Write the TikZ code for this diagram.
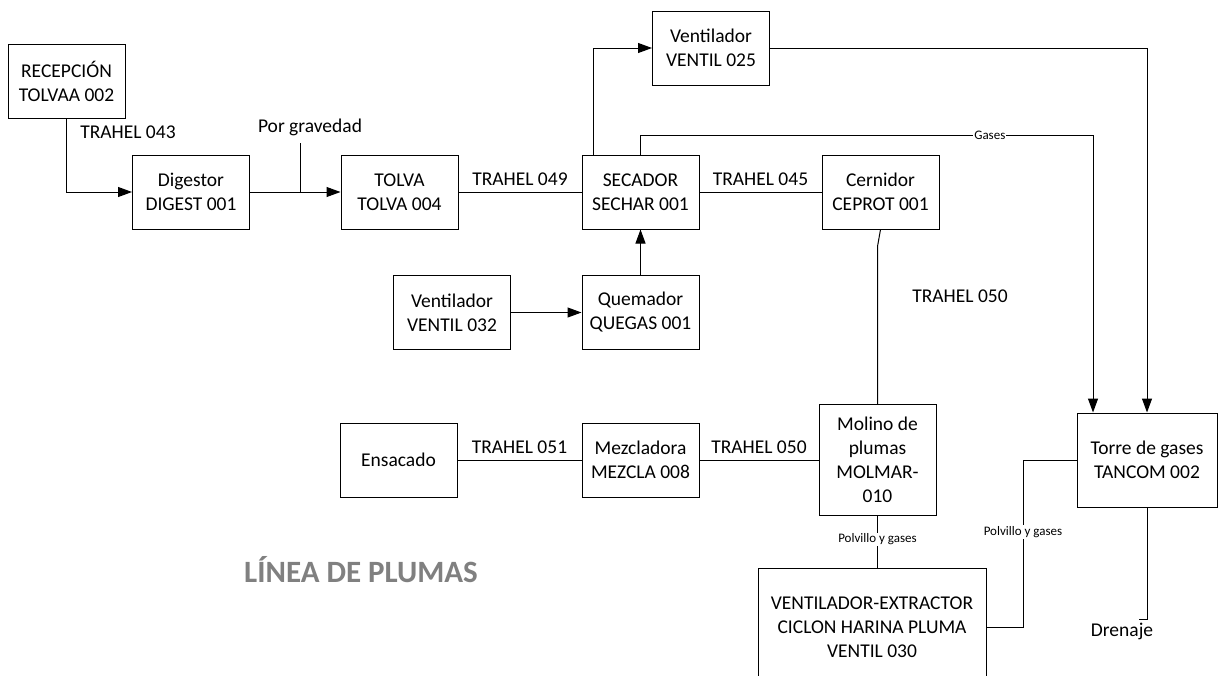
\documentclass[tikz,border=0pt]{standalone}
\usepackage{fontspec}
\setmainfont{Carlito}
\usetikzlibrary{positioning,arrows.meta,calc}

\begin{document}
\begin{tikzpicture}[
x=1pt, y=-1pt,
box/.style={draw, line width=1pt, align=center, inner sep=2pt, minimum width=117pt, minimum height=74pt, font=\fontsize{19.5}{24}\selectfont},
arr/.style={-{Triangle[length=14pt,width=10pt]}, line width=1pt},
ln/.style={line width=1pt},
lbl/.style={font=\fontsize{19.5}{24}\selectfont, inner sep=1pt},
tag/.style={font=\fontsize{13}{15}\selectfont, fill=white, inner sep=1pt},
node distance=50pt
]
\useasboundingbox (0,0) rectangle (1220,675);

% upper line
\node[box] (rec) at (66.5,81) {RECEPCIÓN\\TOLVAA 002};
\node[box] (dig) at (191,192) {Digestor\\DIGEST 001};
\node[box, right=90.5pt of dig] (tol) {TOLVA\\TOLVA 004};
\node[box, right=123pt of tol] (sec) {SECADOR\\SECHAR 001};
\node[box, right=122pt of sec] (cer) {Cernidor\\CEPROT 001};
\node[box] (v025) at (711,48) {Ventilador\\VENTIL 025};

\node[box, below=45.5pt of sec] (que) {Quemador\\QUEGAS 001};
\node[box, left=70.5pt of que] (v032) {Ventilador\\VENTIL 032};

% lower line
\node[box, below=72.5pt of que] (mez) {Mezcladora\\MEZCLA 008};
\node[box, left=124pt of mez] (ens) {Ensacado};
\node[box, right=119pt of mez, minimum height=111pt] (mol) {Molino de\\plumas\\MOLMAR-\\010};
\node[box, below=52pt of mol, xshift=-5.5pt, minimum width=228pt, minimum height=118pt] (vext) {VENTILADOR-EXTRACTOR\\CICLON HARINA PLUMA\\VENTIL 030};
\node[box, minimum width=140pt, minimum height=94pt] (tor) at (1147,460) {Torre de gases\\TANCOM 002};

\node[lbl] (t043) at (128,132) {TRAHEL 043};
\node[lbl] (grav) at (310,127) {Por gravedad};
\node[lbl] (t050a) at (960,296) {TRAHEL 050};
\node[lbl] (dren) at (1122,631) {Drenaje};
\node[font=\fontsize{31}{36}\selectfont\bfseries, text=black!50] (linea) at (361,570) {LÍNEA DE PLUMAS};

\coordinate (gravq) at (300,143);
\coordinate (gasq) at (1093,135);
\coordinate (pvq) at (1023,0);
\coordinate (drenq) at (1139,619);

\draw[arr] (rec.south) |- (dig.west);
\draw[arr] (dig) -- (tol);
\draw[ln] (gravq) -- (gravq |- dig.east);
\draw[ln] (tol) -- node[lbl, above=5pt] {TRAHEL 049} (sec);
\draw[ln] (sec) -- node[lbl, above=5pt] {TRAHEL 045} (cer);
\draw[arr] ([xshift=-47.5pt]sec.north) |- (v025.west);
\draw[arr] (sec.north) -- (sec.north |- gasq) -- node[tag, pos=0.772] {Gases} (gasq) -- (gasq |- tor.north);
\draw[arr] (v025.east) -| (tor.north);
\draw[arr] (v032) -- (que);
\draw[arr] (que) -- (sec);
\draw[ln] (cer.south) -- ($(mol.north |- cer.south)+(0,17)$) -- (mol.north);
\draw[ln] (ens) -- node[lbl, above=5pt] {TRAHEL 051} (mez);
\draw[ln] (mez) -- node[lbl, above=5pt] {TRAHEL 050} (mol);
\draw[ln] (mol.south) -- node[tag, pos=0.45] {Polvillo y gases} (mol.south |- vext.north);
\draw[ln] (vext.east) -- (vext.east -| pvq) -- node[tag, pos=0.57] {Polvillo y gases} (pvq |- tor.west) -- (tor.west);
\draw[ln] (tor.south) |- (drenq);
\end{tikzpicture}
\end{document}
